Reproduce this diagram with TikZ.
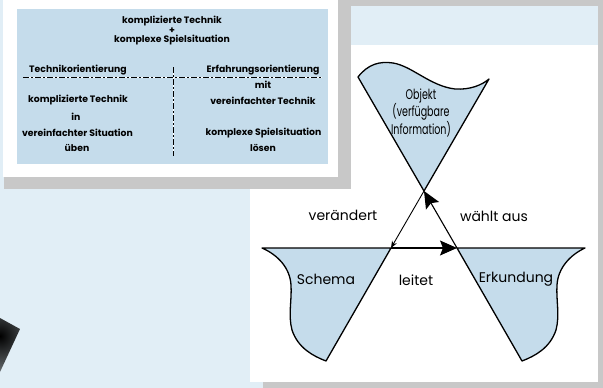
\documentclass[tikz,border=0pt]{standalone}
\usepackage{fontspec}
\newfontfamily\pop{Poppins}
\newfontfamily\popc[FakeStretch=0.68]{Poppins}
\usetikzlibrary{arrows.meta}
\definecolor{bgblue}{RGB}{225,238,246}
\definecolor{framegray}{RGB}{200,200,200}
\definecolor{boxblue}{RGB}{197,220,235}
\begin{document}
\begin{tikzpicture}[x=1pt,y=-1pt,
  paneltext/.style={font=\pop\bfseries\fontsize{9.3}{10}\selectfont, inner sep=0pt, align=center},
  lbl/.style={font=\pop\fontsize{14}{14.5}\selectfont, inner sep=0pt, align=center},
  objlbl/.style={font=\popc\fontsize{14}{14.5}\selectfont, inner sep=0pt, align=center},
  edge/.style={line width=1.3pt, line join=round},
  shapefill/.style={fill=boxblue, draw=black},
  bigarrow/.style={line width=1.1pt, -{Stealth[length=17pt,width=15pt,inset=3pt]}},
  smallarrow/.style={line width=0.9pt, -{Stealth[length=7pt,width=5.5pt]}},
  divider/.style={line width=0.9pt, dash pattern=on 6pt off 2pt on 2pt off 2pt}
]
\useasboundingbox (0,0) rectangle (603,388);
% backgrounds
\fill[bgblue] (0,0) rectangle (603,388);
\fill[framegray] (173,0) rectangle (603,6);
\fill[framegray] (598,0) rectangle (603,388);
\fill[framegray] (263,382) rectangle (603,388);
\fill[white] (250,45) rectangle (598,382);
\fill[framegray] (4,6) rectangle (351,189);
\fill[white] (3,0) rectangle (338,177);
\fill[boxblue] (17,9) rectangle (328,164);
% panel texts
\node[paneltext] (t1) at (172,21) {komplizierte Technik};
\node[paneltext] (t2) at (172,30.5) {+};
\node[paneltext] (t3) at (172,40) {komplexe Spielsituation};
\node[paneltext] (tl1) at (78,70.5) {Technikorientierung};
\node[paneltext] (tr1) at (263,70.5) {Erfahrungsorientierung};
\node[paneltext] (tr2) at (263,85) {mit};
\node[paneltext] (tr3) at (263,100.5) {vereinfachter Technik};
\node[paneltext] (tl2) at (78,100.5) {komplizierte Technik};
\node[paneltext] (tl3) at (76,117) {in};
\node[paneltext] (tl4) at (77.5,133) {vereinfachter Situation};
\node[paneltext] (tl5) at (77,148) {üben};
\node[paneltext] (tr4) at (263.5,133) {komplexe Spielsituation};
\node[paneltext] (tr5) at (263,148) {lösen};
\coordinate (hl) at (23,77.5);
\coordinate (hr) at (322,77.5);
\coordinate (vt) at (173,67);
\coordinate (vb) at (173,156);
\draw[white, line width=0.9pt] (hl) -- (hr);
\draw[white, line width=0.9pt] (vt) -- (vb);
\draw[divider] (hl) -- (hr);
\draw[divider] (vt) -- (vb);
% shaded fragment at lower left
\begin{scope}
  \clip (0,318) -- (20,329) -- (0,372) -- cycle;
  \shade[inner color=black, outer color=bgblue] (0,336) circle (80);
\end{scope}
% main diagram
\coordinate (O) at (424,191);
\coordinate (S) at (391,248);
\coordinate (E) at (457,248);
\coordinate (OL) at (358,77);
\coordinate (OR) at (489,79);
\coordinate (SL) at (262,248);
\coordinate (SB) at (326,361);
\coordinate (ER) at (585,248);
\coordinate (EB) at (522,361);
\filldraw[shapefill, edge] (OL) .. controls (368,64) and (380,61) .. (393,63)
   .. controls (412,66) and (430,86) .. (455,89)
   .. controls (470,90) and (482,85) .. (OR) -- (O) -- cycle;
\filldraw[shapefill, edge] (SL) -- (S) -- (SB)
   .. controls (313,356) and (298,348) .. (292,330)
   .. controls (288,315) and (292,300) .. (291,285)
   .. controls (290,268) and (278,255) .. (SL) -- cycle;
\filldraw[shapefill, edge] (E) -- (ER)
   .. controls (570,255) and (558,268) .. (557,285)
   .. controls (556,300) and (560,315) .. (556,330)
   .. controls (550,348) and (535,356) .. (EB) -- cycle;
\draw[bigarrow] (E) -- (O);
\draw[bigarrow] (S) -- (E);
\draw[smallarrow] (O) -- (S);
\node[objlbl] (objekt) at (421,113) {Objekt\\(verfügbare\\Information)};
\node[lbl] (veraendert) at (343,215) {verändert};
\node[lbl] (waehlt) at (494,216) {wählt aus};
\node[lbl] (schema) at (326,279) {Schema};
\node[lbl] (leitet) at (416,280) {leitet};
\node[lbl] (erkundung) at (516,279) {Erkundung};
\end{tikzpicture}
\end{document}
